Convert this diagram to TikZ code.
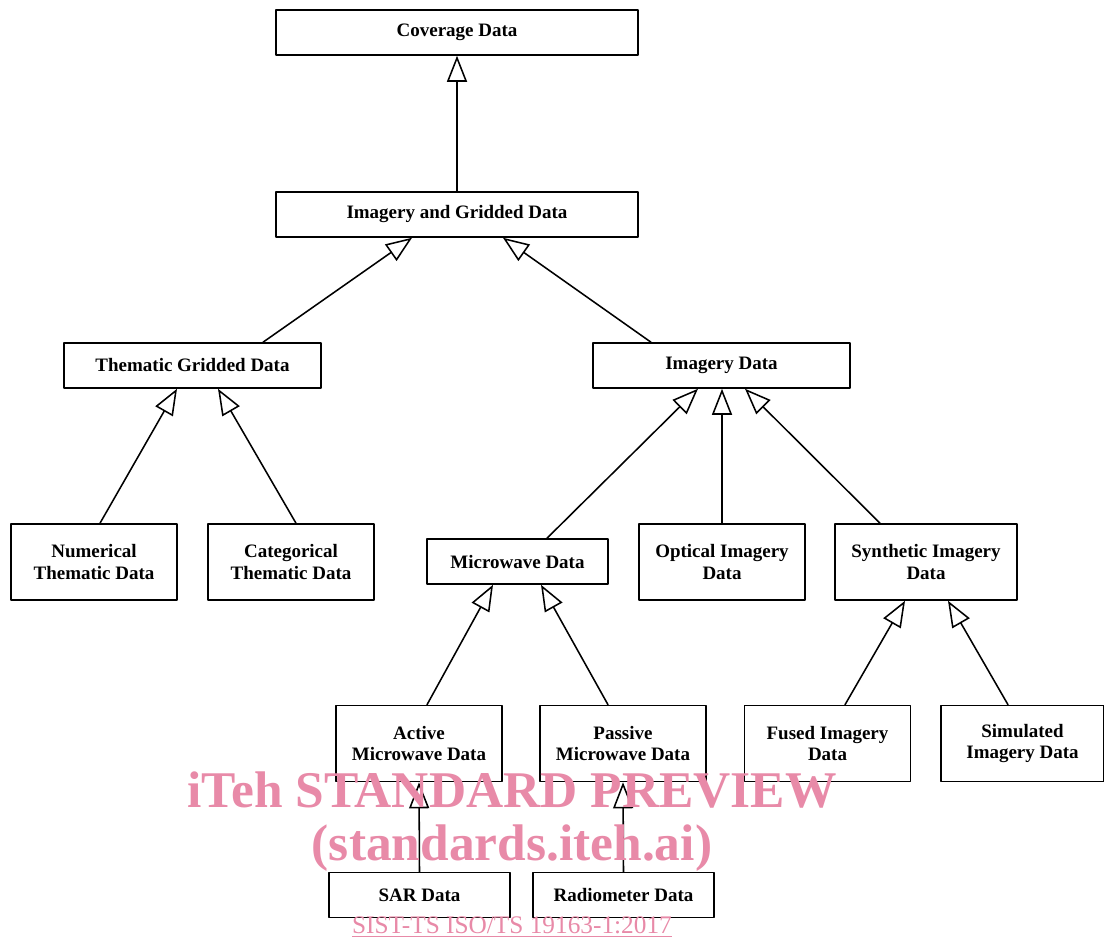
\documentclass[tikz,border=0pt]{standalone}
\usepackage{fontspec}
\setmainfont{Liberation Serif}
\usepackage{xcolor}
\usepackage{tikz}
\usetikzlibrary{arrows.meta,calc}
\definecolor{wmpink}{RGB}{232,138,168}

\begin{document}
\begin{tikzpicture}[x=0.025cm,y=-0.025cm,line cap=round,line join=round,
  box/.style={draw,line width=1.1pt,fill=white,align=center,inner sep=0pt,
    font=\bfseries\fontsize{13.5}{15.6}\selectfont,minimum height=1.125cm},
  widebox/.style={box,minimum width=9.05cm},
  midbox/.style={box,minimum width=6.425cm},
  tallbox/.style={box,minimum width=4.15cm,minimum height=1.9cm},
  shortbox/.style={box,minimum width=4.525cm},
  gen/.style={line width=1.1pt,-{Triangle[length=0.65cm,width=0.5cm,fill=white,line width=1.1pt]}},
  stamp/.style={text=wmpink,font=\bfseries\fontsize{36.6}{40}\selectfont}]
  \useasboundingbox (0,0) rectangle (1104,940);
  % Top of the hierarchy.
  \node[widebox] (cov) at (457,32.5) {Coverage Data};
  \node[widebox] (ig) at (457,214.5) {Imagery and Gridded Data};
  \node[midbox] (thm) at (192.5,365.5) {Thematic Gridded Data};
  \node[midbox] (img) at (721.5,365.5) {Imagery Data};
  % Thematic branch.
  \node[tallbox] (num) at (94,562) {Numerical\\Thematic Data};
  \node[tallbox] (cat) at (291,562) {Categorical\\Thematic Data};
  % Imagery branch.
  \node[shortbox] (mic) at (517.5,561.5) {Microwave Data};
  \node[tallbox] (opt) at (722,562) {Optical Imagery\\Data};
  \node[tallbox,minimum width=4.55cm] (syn) at (926,562) {Synthetic Imagery\\Data};
  \node[tallbox] (act) at (419,743.5) {Active\\Microwave Data};
  \node[tallbox] (pas) at (623,743.5) {Passive\\Microwave Data};
  \node[tallbox] (fus) at (827.5,743.5) {Fused Imagery\\Data};
  \node[tallbox,minimum width=4.075cm] (sim) at (1022.5,743.5) {Simulated\\Imagery Data};
  \node[shortbox] (sar) at (419.5,895) {SAR Data};
  \node[shortbox] (rad) at (623.5,895) {Radiometer Data};

  % Generalisation links.
  \draw[gen] (ig.north) -- (cov.south);
  \draw[gen] ($(thm.north)+(70.5,0)$) -- ($(ig.south)+(-45,0)$);
  \draw[gen] ($(img.north)+(-70.5,0)$) -- ($(ig.south)+(46,0)$);
  \draw[gen] ($(num.north)+(6,0)$) -- ($(thm.south)+(-15.5,0)$);
  \draw[gen] ($(cat.north)+(5,0)$) -- ($(thm.south)+(25.5,0)$);
  \draw[gen] ($(mic.north)+(29.5,0)$) -- ($(img.south)+(-23.5,0)$);
  \draw[gen] (opt.north) -- ($(img.south)+(0.5,0)$);
  \draw[gen] ($(syn.north)+(-46,0)$) -- ($(img.south)+(23.5,0)$);
  \draw[gen] ($(act.north)+(8,0)$) -- ($(mic.south)+(-24.5,0)$);
  \draw[gen] ($(pas.north)+(-15,0)$) -- ($(mic.south)+(23.5,0)$);
  \draw[gen] ($(fus.north)+(17.5,0)$) -- ($(syn.south)+(-21,0)$);
  \draw[gen] ($(sim.north)+(-14.5,0)$) -- ($(syn.south)+(22,0)$);
  \draw[gen] (sar.north) -- (act.south);
  \draw[gen] (rad.north) -- (pas.south);

  % Preview stamp.
  \node[stamp] (wm1) at (512,790) {iTeh STANDARD PREVIEW};
  \node[stamp] (wm2) at (512,848) {(standards.iteh.ai)};
  \node[text=wmpink,font=\fontsize{18}{20}\selectfont] (wm3) at (512,927)
    {\underline{SIST-TS ISO/TS 19163-1:2017}};
\end{tikzpicture}
\end{document}
